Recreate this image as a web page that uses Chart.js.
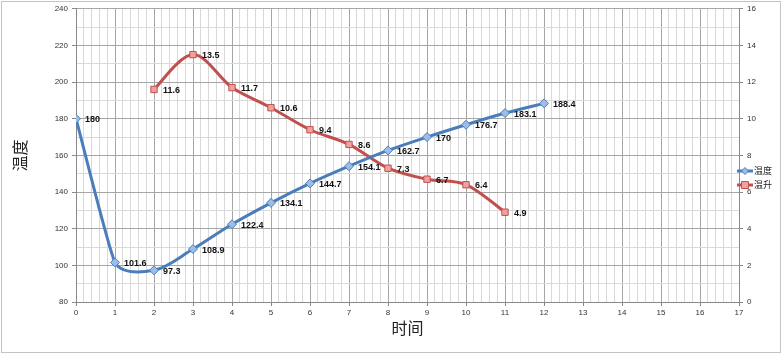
<!DOCTYPE html>
<html>
<head>
<meta charset="utf-8">
<script src="https://cdn.jsdelivr.net/npm/chart.js@4/dist/chart.umd.min.js"></script>
<style>
  html, body { margin: 0; padding: 0; background: #fff; }
  #wrap { width: 782px; height: 354px; }
</style>
</head>
<body>
<div id="wrap"><canvas id="chart" width="782" height="354"></canvas></div>
<script>
// 温度 series (left axis)
const tempTimes = [0, 1, 2, 3, 4, 5, 6, 7, 8, 9, 10, 11, 12];
const tempValues = [180, 101.6, 97.3, 108.9, 122.4, 134.1, 144.7, 154.1, 162.7, 170, 176.7, 183.1, 188.4];
// 温升 series (right axis)
const riseTimes = [2, 3, 4, 5, 6, 7, 8, 9, 10, 11];
const riseValues = [11.6, 13.5, 11.7, 10.6, 9.4, 8.6, 7.3, 6.7, 6.4, 4.9];

const seriesNames = ['温度', '温升'];
const xTitle = '时间';
const yTitle = '温度';

const CJK = '"Noto Sans CJK SC", "Noto Sans", sans-serif';
const LAT = '"Liberation Sans", "DejaVu Sans", sans-serif';

const isWhole = v => Math.abs(v - Math.round(v)) < 1e-6;

// Excel-like smoothing: Catmull-Rom tangents, arms capped by the shorter neighbouring segment
const excelSmooth = {
  id: 'excelSmooth',
  beforeDatasetDraw(chart, args) {
    const meta = args.meta;
    const line = meta.dataset;
    if (!line) return;
    line.updateControlPoints(chart.chartArea, meta.iScale.axis);
    const pts = meta.data;
    const dist = (a, b) => Math.hypot(b.x - a.x, b.y - a.y);
    pts.forEach((p, i) => {
      const prev = pts[Math.max(i - 1, 0)];
      const next = pts[Math.min(i + 1, pts.length - 1)];
      const tx = next.x - prev.x, ty = next.y - prev.y;
      const len = Math.hypot(tx, ty) || 1;
      const dIn = dist(prev, p) || Infinity;
      const dOut = dist(p, next) || Infinity;
      const arm = Math.min(len / 6, Math.min(dIn, dOut) / 3);
      p.cp1x = p.x - tx / len * arm; p.cp1y = p.y - ty / len * arm;
      p.cp2x = p.x + tx / len * arm; p.cp2y = p.y + ty / len * arm;
    });
    delete line._path;
  }
};

const labelsAndFrame = {
  id: 'labelsAndFrame',
  beforeDraw(chart) {
    const ctx = chart.ctx;
    ctx.save();
    ctx.strokeStyle = '#c4c4c4';
    ctx.lineWidth = 1;
    ctx.strokeRect(1.5, 1.5, chart.width - 3, chart.height - 3);
    ctx.restore();
  },
  afterDatasetsDraw(chart) {
    const ctx = chart.ctx;
    ctx.save();
    ctx.font = 'bold 9px ' + LAT;
    ctx.fillStyle = '#111';
    ctx.textAlign = 'left';
    ctx.textBaseline = 'middle';
    chart.data.datasets.forEach((ds, i) => {
      chart.getDatasetMeta(i).data.forEach((pt, j) => {
        ctx.fillText(String(ds.data[j].y), pt.x + 9, pt.y + 1);
      });
    });
    ctx.restore();
  },
  afterDraw(chart) {
    // legend on the right
    const ctx = chart.ctx;
    ctx.save();
    chart.data.datasets.forEach((ds, i) => {
      const y = 171 + i * 14;
      const x0 = 737, x1 = 753;
      ctx.strokeStyle = ds.borderColor;
      ctx.lineWidth = 3;
      ctx.beginPath();
      ctx.moveTo(x0, y);
      ctx.lineTo(x1, y);
      ctx.stroke();
      ctx.fillStyle = ds.pointBackgroundColor;
      ctx.strokeStyle = ds.pointBorderColor;
      ctx.lineWidth = 1;
      const cx = (x0 + x1) / 2;
      ctx.beginPath();
      if (ds.pointStyle === 'rectRot') {
        ctx.moveTo(cx, y - 3.5); ctx.lineTo(cx + 3.5, y); ctx.lineTo(cx, y + 3.5); ctx.lineTo(cx - 3.5, y);
      } else {
        ctx.rect(cx - 3.5, y - 3.5, 7, 7);
      }
      ctx.closePath();
      ctx.fill();
      ctx.stroke();
      ctx.fillStyle = '#222';
      ctx.font = '9px ' + CJK;
      ctx.textAlign = 'left';
      ctx.textBaseline = 'middle';
      ctx.fillText(seriesNames[i], x1 + 1, y);
    });
    ctx.restore();
  }
};

new Chart(document.getElementById('chart'), {
  type: 'line',
  data: {
    datasets: [
      {
        label: seriesNames[0],
        data: tempTimes.map((t, i) => ({ x: t, y: tempValues[i] })),
        yAxisID: 'y',
        borderColor: '#4a7ebb',
        borderWidth: 3,
        tension: 0.4,
        pointStyle: 'rectRot',
        pointRadius: 4.5,
        pointBackgroundColor: '#9dbde6',
        pointBorderColor: '#4a7ebb',
        pointBorderWidth: 1
      },
      {
        label: seriesNames[1],
        data: riseTimes.map((t, i) => ({ x: t, y: riseValues[i] })),
        yAxisID: 'y1',
        borderColor: '#c0504d',
        borderWidth: 3,
        tension: 0.4,
        pointStyle: 'rect',
        pointRadius: 4.5,
        pointBackgroundColor: '#f0a09e',
        pointBorderColor: '#c0504d',
        pointBorderWidth: 1
      }
    ]
  },
  options: {
    responsive: false,
    animation: false,
    layout: { padding: { top: 7, left: 0, right: 0, bottom: 0 } },
    plugins: { legend: { display: false }, tooltip: { enabled: false } },
    scales: {
      x: {
        type: 'linear',
        min: 0,
        max: 17,
        afterFit: s => { s.height = 52; },
        ticks: {
          stepSize: 0.2,
          autoSkip: false,
          maxRotation: 0,
          padding: 2,
          color: '#333',
          font: { size: 8, family: LAT },
          callback: v => isWhole(v) ? String(Math.round(v)) : ''
        },
        grid: {
          color: c => isWhole(c.tick.value) ? '#a6a6a6' : '#d9d9d9',
          tickColor: c => isWhole(c.tick.value) ? '#888' : 'rgba(0,0,0,0)',
          tickLength: 4,
          lineWidth: 1
        },
        border: { color: '#888' },
        title: {
          display: true,
          text: xTitle,
          color: '#222',
          font: { size: 16, family: CJK },
          padding: { top: 0, bottom: 16 }
        }
      },
      y: {
        position: 'left',
        min: 80,
        max: 240,
        afterFit: s => { s.width = 76; },
        ticks: {
          stepSize: 10,
          autoSkip: false,
          padding: 4,
          color: '#333',
          font: { size: 8, family: LAT },
          callback: v => v % 20 === 0 ? String(v) : ''
        },
        grid: {
          color: c => c.tick.value % 20 === 0 ? '#a6a6a6' : '#d9d9d9',
          tickColor: c => c.tick.value % 20 === 0 ? '#888' : 'rgba(0,0,0,0)',
          tickLength: 4,
          lineWidth: 1
        },
        border: { color: '#888' },
        title: {
          display: true,
          text: yTitle,
          color: '#222',
          font: { size: 16, family: CJK },
          padding: { top: 10, bottom: 0 }
        }
      },
      y1: {
        position: 'right',
        min: 0,
        max: 16,
        afterFit: s => { s.width = 43; },
        ticks: {
          stepSize: 2,
          padding: 4,
          color: '#333',
          font: { size: 8, family: LAT }
        },
        grid: { drawOnChartArea: false, color: '#888', tickLength: 4 },
        border: { color: '#888' }
      }
    }
  },
  plugins: [excelSmooth, labelsAndFrame]
});
</script>
</body>
</html>
